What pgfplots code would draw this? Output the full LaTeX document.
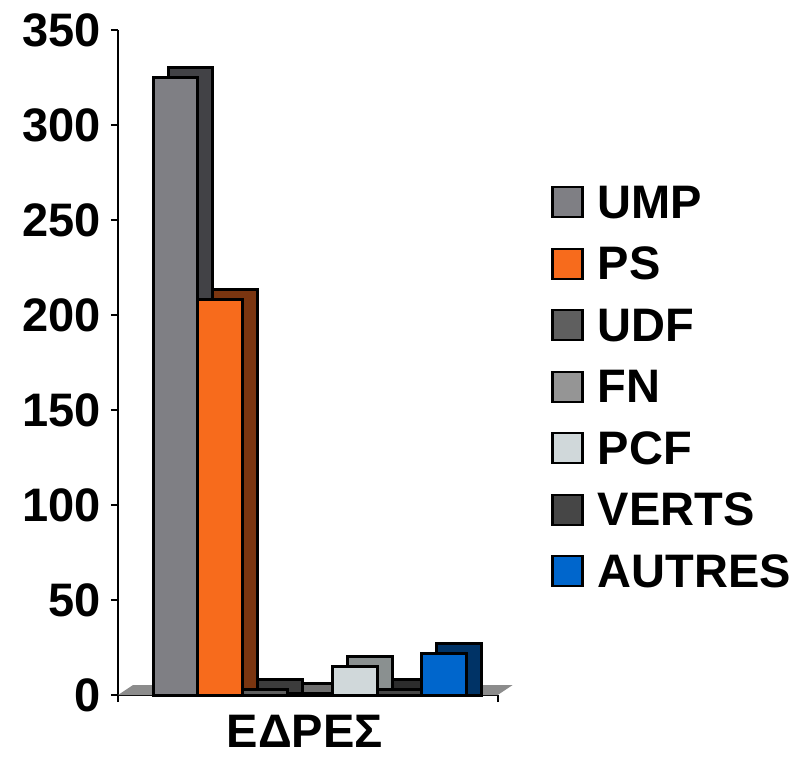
\documentclass[border=0pt]{standalone}
\usepackage{pgfplots}
\usepackage{pgfplotstable}
\pgfplotsset{compat=1.18}
\usepackage{fontspec}
\setmainfont{Liberation Sans}
\definecolor{cUMP}{HTML}{7F7F84}\definecolor{sUMP}{HTML}{424246}
\definecolor{cPS}{HTML}{F76B1C}\definecolor{sPS}{HTML}{7A3510}
\definecolor{cUDF}{HTML}{5F5F5F}\definecolor{sUDF}{HTML}{3C3C3C}
\definecolor{cFN}{HTML}{959595}\definecolor{sFN}{HTML}{6E6E6E}
\definecolor{cPCF}{HTML}{D0D8DA}\definecolor{sPCF}{HTML}{8A9090}
\definecolor{cVERTS}{HTML}{464646}\definecolor{sVERTS}{HTML}{2C2C2C}
\definecolor{cAUT}{HTML}{0066CC}\definecolor{sAUT}{HTML}{003366}
\definecolor{floor}{HTML}{8C8C8C}
\pgfplotstableread{
x UMP PS UDF FN PCF VERTS AUTRES
0 325 208 3 1 15 3 22
}\data
\pgfplotstableread{
x y
-0.5 0
0.5 0
0.5395 5.26
-0.4605 5.26
-0.5 0
}\floordata
\begin{document}
\begin{tikzpicture}
\path[use as bounding box] (-59pt,-30.5pt) rectangle (344pt,347.5pt);
\begin{axis}[
  scale only axis, width=189.85pt, height=332.5pt,
  xmin=-0.5, xmax=0.5, ymin=0, ymax=350,
  clip=false,
  axis lines*=left, axis line style={line width=1.2pt},
  xtick={-0.5,0.5}, xticklabels={}, 
  ytick={0,50,...,350},
  tick align=outside, major tick length=3.5pt,
  tick style={line width=1.2pt, black},
  /pgf/number format/assume math mode=true,
  ticklabel style={font=\fontsize{23.5}{23.5}\selectfont\bfseries},
  yticklabel style={inner sep=0pt, xshift=-5pt},
  xlabel={ΕΔΡΕΣ},
  xlabel style={at={(axis description cs:0.5,0)}, anchor=north, inner sep=0pt, yshift=-10pt, xshift=-1.5pt, font=\fontsize{23.5}{23.5}\selectfont\bfseries},
  legend style={draw=none, fill=none, inner sep=0pt, at={(axis description cs:1.1404,0.4647)}, anchor=west,
    font=\fontsize{23.5}{23.5}\selectfont\bfseries, column sep=7pt, row sep=13.75pt,
    nodes={inner sep=0pt, text height=16.8pt, text depth=0pt}},
  legend cell align=left,
  front/.style={ybar, bar width=22.4pt, draw=black, line width=1.5pt,
    legend image code/.code={\draw[##1, draw=black, line width=1.2pt] (0pt,-8pt) rectangle (15pt,7pt);}},
  back/.style={ybar, bar width=22.4pt, draw=black, line width=1.5pt, forget plot},
]
\addplot[fill=floor, draw=none, forget plot] table[x=x,y=y]{\floordata};
% depth faces
\addplot[back, fill=sUMP, bar shift=-66.2pt+7.5pt] table[x=x, y expr=\thisrow{UMP}+5.26]{\data};
\addplot[back, fill=sPS, bar shift=-43.8pt+7.5pt] table[x=x, y expr=\thisrow{PS}+5.26]{\data};
\addplot[back, fill=sUDF, bar shift=-21.4pt+7.5pt] table[x=x, y expr=\thisrow{UDF}+5.26]{\data};
\addplot[back, fill=sFN, bar shift=1pt+7.5pt] table[x=x, y expr=\thisrow{FN}+5.26]{\data};
\addplot[back, fill=sPCF, bar shift=23.4pt+7.5pt] table[x=x, y expr=\thisrow{PCF}+5.26]{\data};
\addplot[back, fill=sVERTS, bar shift=45.8pt+7.5pt] table[x=x, y expr=\thisrow{VERTS}+5.26]{\data};
\addplot[back, fill=sAUT, bar shift=68.2pt+7.5pt] table[x=x, y expr=\thisrow{AUTRES}+5.26]{\data};
% front faces
\addplot[front, fill=cUMP, bar shift=-66.2pt] table[x=x,y=UMP]{\data};
\addplot[front, fill=cPS, bar shift=-43.8pt] table[x=x,y=PS]{\data};
\addplot[front, fill=cUDF, bar shift=-21.4pt] table[x=x,y=UDF]{\data};
\addplot[front, fill=cFN, bar shift=1pt] table[x=x,y=FN]{\data};
\addplot[front, fill=cPCF, bar shift=23.4pt] table[x=x,y=PCF]{\data};
\addplot[front, fill=cVERTS, bar shift=45.8pt] table[x=x,y=VERTS]{\data};
\addplot[front, fill=cAUT, bar shift=68.2pt] table[x=x,y=AUTRES]{\data};
\legend{UMP,PS,UDF,FN,PCF,VERTS,AUTRES}
\end{axis}
\end{tikzpicture}
\end{document}
